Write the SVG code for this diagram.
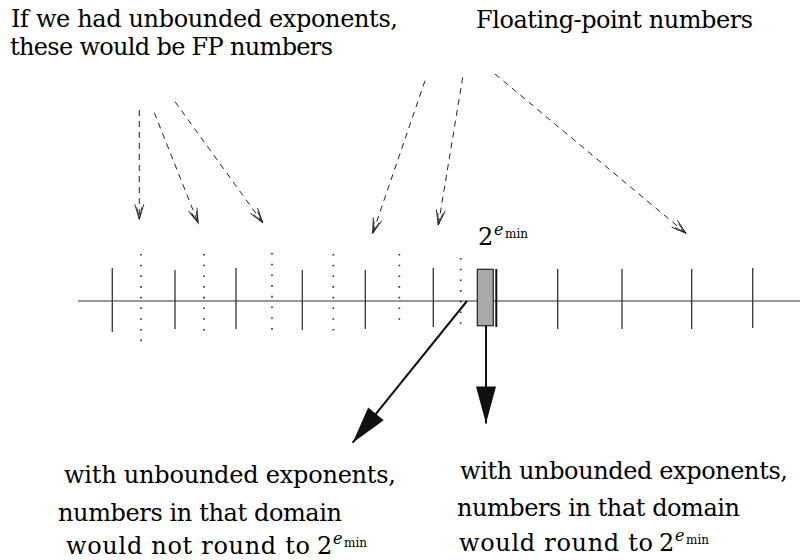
<svg xmlns="http://www.w3.org/2000/svg" width="800" height="560" viewBox="0 0 800 560">
<style>
  .t { font-family: "DejaVu Serif", "Liberation Serif", serif; font-size: 24px; fill: #000; }
  .sup { font-family: "DejaVu Serif", "Liberation Serif", serif; font-style: italic; font-size: 16px; fill: #000; }
  .sub { font-family: "DejaVu Serif", "Liberation Serif", serif; font-size: 12px; fill: #000; }
  .axis { stroke: #333; stroke-width: 1.2; fill: none; }
  .tick { stroke: #333; stroke-width: 1.3; fill: none; }
  .dot { stroke: #333; stroke-width: 1.7; stroke-dasharray: 1.6 9.1; fill: none; }
  .dash { stroke: #222; stroke-width: 1; stroke-dasharray: 6 5; fill: none; marker-end: url(#open); }
  .solid { stroke: #111; stroke-width: 2; fill: none; marker-end: url(#filled); }
</style>
<defs>
  <marker id="open" markerUnits="userSpaceOnUse" markerWidth="20" markerHeight="14" viewBox="-17 -7 19 14" refX="0" refY="0" orient="auto">
    <path d="M-15,-4.5 L0,0 L-15,4.5 M-12,-2.5 L0,0 L-12,2.5" fill="none" stroke="#222" stroke-width="0.9"/>
  </marker>
  <marker id="filled" markerUnits="userSpaceOnUse" markerWidth="40" markerHeight="24" viewBox="-38 -11 40 22" refX="0" refY="0" orient="auto">
    <path d="M-37,-10 L0,0 L-37,10 Z" fill="#111" stroke="none"/>
  </marker>
</defs>

<g id="number-line">
  <line class="axis" x1="78" y1="301" x2="800" y2="301"/>
  <g id="fp-ticks">
    <line class="tick" x1="112.3" y1="268" x2="112.3" y2="332"/>
    <line class="tick" x1="175" y1="270" x2="175" y2="329"/>
    <line class="tick" x1="236" y1="268" x2="236" y2="329"/>
    <line class="tick" x1="302.3" y1="270" x2="302.3" y2="330"/>
    <line class="tick" x1="365.3" y1="270" x2="365.3" y2="329"/>
    <line class="tick" x1="433.3" y1="268" x2="433.3" y2="327"/>
    <line class="tick" x1="557.7" y1="269" x2="557.7" y2="329"/>
    <line class="tick" x1="622" y1="269" x2="622" y2="329"/>
    <line class="tick" x1="691.7" y1="269" x2="691.7" y2="329"/>
    <line class="tick" x1="752.7" y1="268" x2="752.7" y2="328"/>
  </g>
  <g id="unbounded-ticks">
    <line class="dot" x1="141" y1="254" x2="141" y2="349"/>
    <line class="dot" x1="204" y1="254" x2="204" y2="339"/>
    <line class="dot" x1="272" y1="253" x2="272" y2="336"/>
    <line class="dot" x1="333.3" y1="254" x2="333.3" y2="339"/>
    <line class="dot" x1="399.3" y1="254" x2="399.3" y2="329"/>
    <line class="dot" x1="460.7" y1="258" x2="460.7" y2="332"/>
  </g>
</g>

<g id="emin-node">
  <rect x="477.3" y="269.3" width="16" height="56.4" fill="#a9a9ab" stroke="#222" stroke-width="1.2"/>
  <line x1="496.3" y1="269" x2="496.3" y2="327" stroke="#111" stroke-width="2"/>
  <text class="t" x="478" y="245">2</text>
  <text class="sup" x="494" y="235">e</text>
  <text class="sub" x="505" y="238">min</text>
</g>

<g id="label-unbounded">
  <text class="t" x="11" y="27" textLength="387">If we had unbounded exponents,</text>
  <text class="t" x="10" y="55" textLength="323">these would be FP numbers</text>
</g>

<g id="label-fp">
  <text class="t" x="476" y="28" textLength="277">Floating-point numbers</text>
</g>

<g id="label-not-round">
  <text class="t" x="64" y="483" textLength="332">with unbounded exponents,</text>
  <text class="t" x="58" y="521" textLength="284">numbers in that domain</text>
  <text class="t" x="66" y="554" textLength="244">would not round to</text>
  <text class="t" x="317" y="554">2</text>
  <text class="sup" x="333" y="544">e</text>
  <text class="sub" x="344" y="547">min</text>
</g>

<g id="label-round">
  <text class="t" x="460" y="479" textLength="328">with unbounded exponents,</text>
  <text class="t" x="457" y="516" textLength="283">numbers in that domain</text>
  <text class="t" x="459" y="551" textLength="194">would round to</text>
  <text class="t" x="659" y="551">2</text>
  <text class="sup" x="675" y="541">e</text>
  <text class="sub" x="686" y="544">min</text>
</g>

<g id="connectors">
  <line class="dash" x1="139.3" y1="110" x2="139.3" y2="219.3"/>
  <line class="dash" x1="154.3" y1="112.7" x2="198.3" y2="223.3"/>
  <line class="dash" x1="175" y1="101.7" x2="262.7" y2="222.7"/>
  <line class="dash" x1="425" y1="80.7" x2="372.7" y2="233.3"/>
  <line class="dash" x1="462.7" y1="77.3" x2="438.3" y2="225"/>
  <line class="dash" x1="495" y1="74" x2="686" y2="233.3"/>
  <line class="solid" x1="467" y1="301" x2="352.7" y2="442.7"/>
  <line class="solid" x1="486" y1="326" x2="486" y2="423.5"/>
</g>
</svg>
